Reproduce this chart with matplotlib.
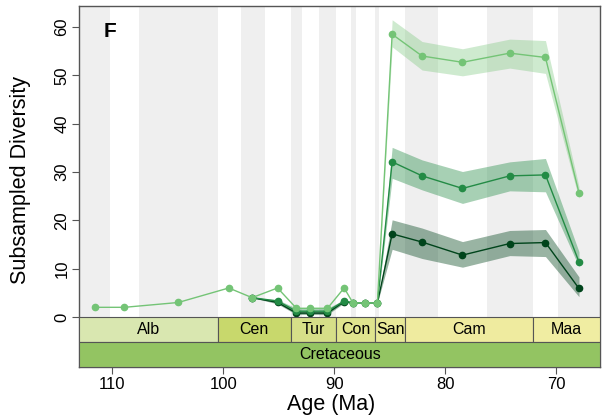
import matplotlib
matplotlib.use("Agg")
import matplotlib.pyplot as plt
from matplotlib.patches import Rectangle

plt.rcParams['font.family'] = ['Liberation Sans', 'DejaVu Sans']

# stage boxes (age top, age base)
stage_names = ['Alb', 'Cen', 'Tur', 'Con', 'San', 'Cam', 'Maa']
stage_old = [113.0, 100.5, 93.9, 89.8, 86.3, 83.6, 72.1]
stage_young = [100.5, 93.9, 89.8, 86.3, 83.6, 72.1, 66.0]
stage_cols = ['#d9e7b0', '#c8d86c', '#d6df88', '#dfe48e', '#e8e998', '#efeb9f', '#f0eda2']
period_name = 'Cretaceous'
period_col = '#93c462'

# grey background bins (old, young)
band_old = [113.0, 107.6, 98.4, 93.9, 91.4, 88.5, 86.3, 83.6, 76.2, 69.8]
band_young = [110.2, 100.5, 96.2, 92.9, 89.8, 88.05, 86.0, 80.6, 72.1, 66.0]

# light series
ages_light = [111.6, 108.9, 104.05, 99.5, 97.4, 95.1, 93.4, 92.2, 90.6, 89.1, 88.3, 87.2, 86.1,
              84.77, 82.07, 78.43, 74.17, 70.95, 67.93]
div_light = [2, 2, 3, 6, 4, 6, 1.8, 1.8, 1.8, 6, 2.9, 2.9, 2.9, 58.5, 54.0, 52.7, 54.6, 53.7, 25.7]
lo_light = [2, 2, 3, 6, 4, 6, 1.8, 1.8, 1.8, 6, 2.9, 2.9, 2.9, 55.9, 51.1, 49.9, 51.5, 50.4, 24.5]
hi_light = [2, 2, 3, 6, 4, 6, 1.8, 1.8, 1.8, 6, 2.9, 2.9, 2.9, 61.5, 57.0, 55.5, 57.5, 57.2, 27.0]

# medium and dark series
ages_sub = [97.4, 95.1, 93.4, 92.2, 90.6, 89.1, 88.3, 87.2, 86.1, 84.77, 82.07, 78.43, 74.17, 70.95, 67.93]
div_mid = [4, 3.3, 1.2, 1.2, 1.2, 3.3, 2.9, 2.9, 2.9, 32.1, 29.2, 26.6, 29.2, 29.4, 11.4]
lo_mid = [4, 3.0, 0.8, 0.8, 0.8, 3.0, 2.9, 2.9, 2.9, 28.7, 26.3, 23.5, 26.1, 25.9, 10.4]
hi_mid = [4, 3.6, 1.8, 1.8, 1.8, 3.6, 2.9, 2.9, 2.9, 35.1, 32.5, 30.1, 32.1, 32.8, 13.5]
div_dark = [4, 3.0, 0.8, 0.8, 0.8, 3.2, 2.9, 2.9, 2.9, 17.2, 15.5, 12.8, 15.2, 15.4, 5.9]
lo_dark = [4, 2.7, 0.5, 0.5, 0.5, 2.9, 2.9, 2.9, 2.9, 14.0, 12.1, 10.3, 12.7, 12.5, 4.2]
hi_dark = [4, 3.4, 1.2, 1.2, 1.2, 3.5, 2.9, 2.9, 2.9, 20.1, 18.4, 15.6, 17.9, 18.1, 8.3]

c_light = '#74c476'
c_mid = '#238b45'
c_dark = '#00441b'

fig = plt.figure(figsize=(6.04, 4.2), dpi=100)
ax = fig.add_axes([0.1308, 0.1262, 0.8632, 0.8595])

y_top = 64.35
y_stage = -5.17
y_bot = -10.35

# background bins
for o, yg in zip(band_old, band_young):
    ax.axvspan(o, yg, color='#efefef', lw=0, zorder=0)

# ribbons + lines (light drawn last, on top)
series = [
    (ages_sub, div_dark, lo_dark, hi_dark, c_dark, 0.4),
    (ages_sub, div_mid, lo_mid, hi_mid, c_mid, 0.4),
    (ages_light, div_light, lo_light, hi_light, c_light, 0.35),
]
for a, d, lo, hi, c, al in series:
    ax.fill_between(a, lo, hi, color=c, alpha=al, lw=0, zorder=2)
z = 3
for a, d, lo, hi, c, al in series:
    ax.plot(a, d, color=c, lw=1.0, marker='o', ms=4.5, zorder=z)
    z += 0.1

# stage boxes
for name, o, yg, col in zip(stage_names, stage_old, stage_young, stage_cols):
    ax.add_patch(Rectangle((o, y_stage), yg - o, 0 - y_stage, facecolor=col,
                           edgecolor='#555555', lw=0.8, zorder=4))
    ax.text((o + yg) / 2, y_stage / 2, name, ha='center', va='center', fontsize=11.5, zorder=5)
ax.add_patch(Rectangle((stage_old[0], y_bot), stage_young[-1] - stage_old[0], y_stage - y_bot,
                       facecolor=period_col, edgecolor='#555555', lw=0.8, zorder=4))
ax.text((stage_old[0] + stage_young[-1]) / 2, (y_stage + y_bot) / 2, period_name,
        ha='center', va='center', fontsize=11.5, zorder=5)

ax.set_xlim(113.0, 66.0)
ax.set_ylim(y_bot, y_top)
ax.set_xticks([110, 100, 90, 80, 70])
ax.set_yticks([0, 10, 20, 30, 40, 50, 60])
ax.tick_params(axis='both', labelsize=12, color='#555555', length=5, width=0.8, pad=2)
for lab in ax.get_yticklabels():
    lab.set_rotation(90)
    lab.set_va('center')
for s in ax.spines.values():
    s.set_color('#555555')
    s.set_linewidth(1.0)

ax.set_xlabel('Age (Ma)', fontsize=15.5)
ax.set_ylabel('Subsampled Diversity', fontsize=15.5)
ax.xaxis.set_label_coords(0.483, -0.075)
ax.yaxis.set_label_coords(-0.092, 0.518)
ax.text(0.047, 0.93, 'F', transform=ax.transAxes, fontsize=15, fontweight='bold',
        ha='left', va='center', zorder=6)

fig.savefig('out.png', dpi=100)
